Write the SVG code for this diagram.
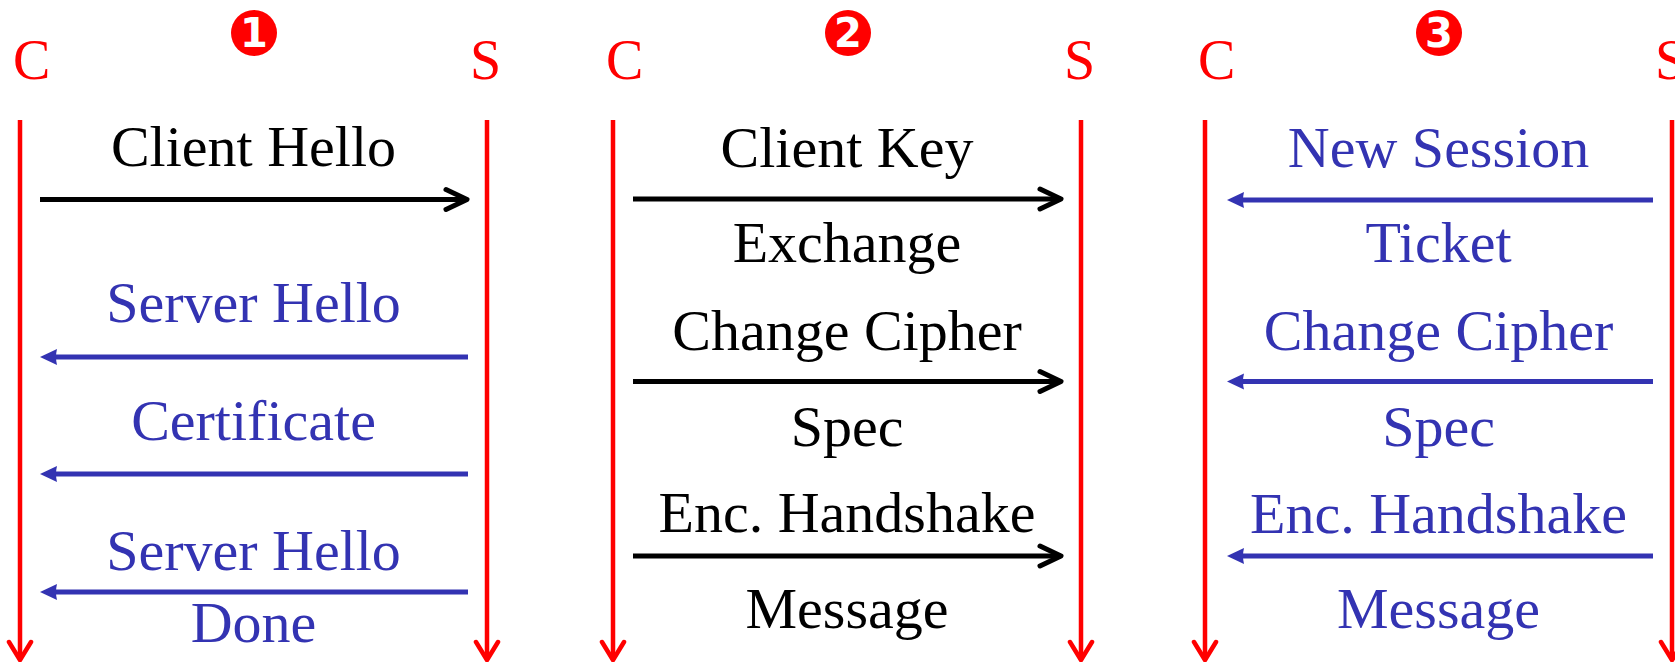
<svg xmlns="http://www.w3.org/2000/svg" width="1675" height="662" viewBox="0 0 1675 662">
  <style>
    .lbl { font-family: "Liberation Serif", "DejaVu Serif", serif; font-size: 58px; text-anchor: middle; }
    .end { font-family: "Liberation Serif", "DejaVu Serif", serif; font-size: 56px; fill: #FF0000; }
    .blk { fill: #000000; }
    .blu { fill: #3333B2; }
    .life { stroke: #FF0000; stroke-width: 4.5; fill: none; marker-end: url(#headRed); }
    .req { stroke: #000000; stroke-width: 5; fill: none; marker-end: url(#headBlack); }
    .rsp { stroke: #3333B2; stroke-width: 5; fill: none; marker-end: url(#headBlue); }
    .badge circle { fill: #FF0000; }
    .badge text { font-family: "DejaVu Sans", "Liberation Sans", sans-serif; font-weight: bold; font-size: 40px; fill: #FFFFFF; text-anchor: middle; }
  </style>
  <defs>
    <marker id="headRed" markerUnits="userSpaceOnUse" orient="auto" overflow="visible" markerWidth="1" markerHeight="1">
      <path d="M-18,-11 L0,0 L-18,11" fill="none" stroke="#FF0000" stroke-width="4.5" stroke-linecap="round" stroke-linejoin="round"/>
    </marker>
    <marker id="headBlack" markerUnits="userSpaceOnUse" orient="auto" overflow="visible" markerWidth="1" markerHeight="1">
      <path d="M-21,-10 L0,0 L-21,10" fill="none" stroke="#000000" stroke-width="5" stroke-linecap="round" stroke-linejoin="round"/>
    </marker>
    <marker id="headBlue" markerUnits="userSpaceOnUse" orient="auto" overflow="visible" markerWidth="1" markerHeight="1">
      <path d="M10,0 L-7,-8 Q-5,0 -7,8 Z" fill="#3333B2"/>
    </marker>
  </defs>

  <rect width="1675" height="662" fill="#FFFFFF"/>

  <!-- phase badges -->
  <g id="badge1" class="badge"><circle cx="254" cy="33" r="23"/><text x="254" y="47">1</text></g>
  <g id="badge2" class="badge"><circle cx="848" cy="33" r="23"/><text x="848" y="47">2</text></g>
  <g id="badge3" class="badge"><circle cx="1439" cy="33" r="23"/><text x="1439" y="47">3</text></g>

  <!-- lifeline labels -->
  <g id="client1"><text class="end" x="13" y="79">C</text></g>
  <g id="server1"><text class="end" x="470" y="79">S</text></g>
  <g id="client2"><text class="end" x="606" y="79">C</text></g>
  <g id="server2"><text class="end" x="1064" y="79">S</text></g>
  <g id="client3"><text class="end" x="1198" y="79">C</text></g>
  <g id="server3"><text class="end" x="1655" y="79">S</text></g>

  <!-- phase 1 messages -->
  <g id="p1-client-hello"><text class="lbl blk" x="253.5" y="166">Client Hello</text></g>
  <g id="p1-server-hello"><text class="lbl blu" x="253.5" y="322">Server Hello</text></g>
  <g id="p1-certificate"><text class="lbl blu" x="253.5" y="440">Certificate</text></g>
  <g id="p1-server-hello-done"><text class="lbl blu" x="253.5" y="570">Server Hello</text><text class="lbl blu" x="253.5" y="642">Done</text></g>

  <!-- phase 2 messages -->
  <g id="p2-client-key-exchange"><text class="lbl blk" x="847" y="167">Client Key</text><text class="lbl blk" x="847" y="262">Exchange</text></g>
  <g id="p2-change-cipher-spec"><text class="lbl blk" x="847" y="350">Change Cipher</text><text class="lbl blk" x="847" y="446">Spec</text></g>
  <g id="p2-enc-handshake"><text class="lbl blk" x="847" y="532">Enc. Handshake</text><text class="lbl blk" x="847" y="628">Message</text></g>

  <!-- phase 3 messages -->
  <g id="p3-new-session-ticket"><text class="lbl blu" x="1438.5" y="167">New Session</text><text class="lbl blu" x="1438.5" y="262">Ticket</text></g>
  <g id="p3-change-cipher-spec"><text class="lbl blu" x="1438.5" y="350">Change Cipher</text><text class="lbl blu" x="1438.5" y="446">Spec</text></g>
  <g id="p3-enc-handshake"><text class="lbl blu" x="1438.5" y="533">Enc. Handshake</text><text class="lbl blu" x="1438.5" y="628">Message</text></g>

  <!-- connectors: lifelines and message arrows -->
  <g id="connectors">
    <path class="life" d="M20,120 V660"/>
    <path class="life" d="M487,120 V660"/>
    <path class="life" d="M613,120 V660"/>
    <path class="life" d="M1081,120 V660"/>
    <path class="life" d="M1205,120 V660"/>
    <path class="life" d="M1672,120 V660"/>

    <path class="req" d="M40,199.5 H467"/>
    <path class="rsp" d="M468,357 H50"/>
    <path class="rsp" d="M468,474 H50"/>
    <path class="rsp" d="M468,592 H50"/>

    <path class="req" d="M633,199 H1061"/>
    <path class="req" d="M633,381.5 H1061"/>
    <path class="req" d="M633,556 H1061"/>

    <path class="rsp" d="M1653,200 H1237"/>
    <path class="rsp" d="M1653,381.5 H1237"/>
    <path class="rsp" d="M1653,556 H1237"/>
  </g>
</svg>
